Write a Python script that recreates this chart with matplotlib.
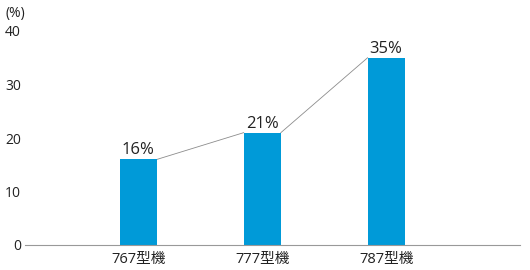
import numpy as np
import matplotlib
matplotlib.use('Agg')
import matplotlib.pyplot as plt

plt.rcParams['font.family'] = ['Open Sans', 'Noto Sans CJK JP', 'DejaVu Sans']

models = ['767型機', '777型機', '787型機']
shares = [16, 21, 35]
yticks = [0, 10, 20, 30, 40]

bar_color = '#009ad8'
width = 0.3

fig = plt.figure(figsize=(5.3, 2.7), dpi=100)
ax = fig.add_axes([25 / 530, 25 / 270, 495 / 530, 214 / 270])

x = np.arange(len(models))
ax.bar(x, shares, width=width, color=bar_color, zorder=2)

# thin grey lines joining the bar tops
for i in range(len(shares) - 1):
    ax.plot([x[i] + width / 2, x[i + 1] - width / 2], [shares[i], shares[i + 1]],
            color='#8c8c8c', lw=0.6, zorder=1)

for xi, v in zip(x, shares):
    ax.text(xi, v + 0.2, f'{v}%', ha='center', va='bottom', fontsize=12, color='#222222')

ax.set_xlim(-0.915, 3.08)
ax.set_ylim(0, 40)
ax.set_xticks(x)
ax.set_xticklabels(models, fontsize=10.5, color='#222222')
ax.set_yticks(yticks)
ax.set_yticklabels([str(t) for t in yticks], fontsize=10, color='#222222')
ax.tick_params(axis='both', length=0)
ax.tick_params(axis='y', pad=3)
ax.tick_params(axis='x', pad=5)

for s in ['top', 'right', 'left']:
    ax.spines[s].set_visible(False)
ax.spines['bottom'].set_color('#999999')
ax.spines['bottom'].set_linewidth(0.8)

fig.text(5 / 530, 1 - 13 / 270, '(%)', ha='left', va='center', fontsize=10, color='#222222')

fig.savefig('out.png', dpi=100)
